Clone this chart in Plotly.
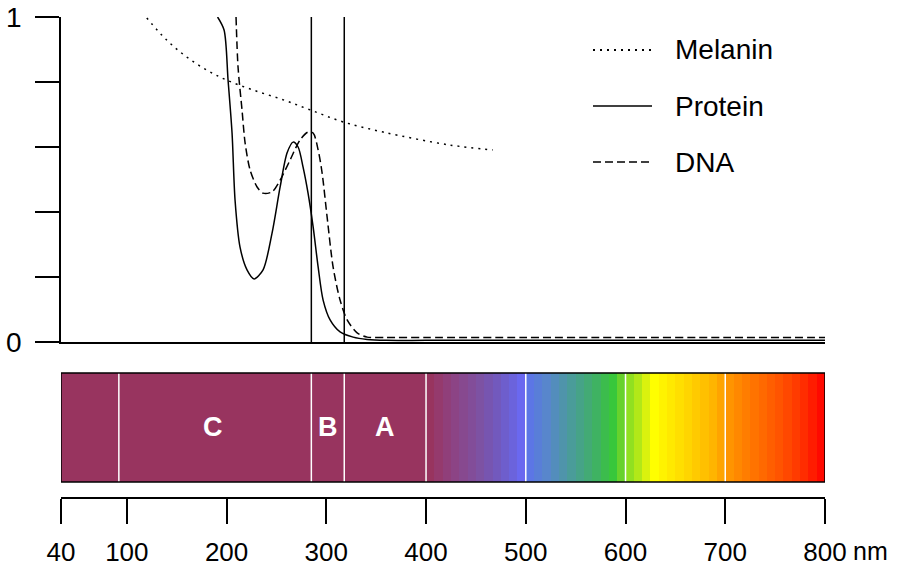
import numpy as np
import plotly.graph_objects as go

# ---------------- data ----------------
melanin_nm = [120, 140, 160, 180, 200, 227, 257, 284, 317, 357, 424, 467]
melanin_abs = [0.997, 0.929, 0.877, 0.837, 0.806, 0.775, 0.745, 0.714, 0.677, 0.646, 0.606, 0.591]

protein_nm = [191, 197.5, 201.5, 205.5, 208.5, 213.5, 220.5, 227.6, 236.6, 245.6, 253.7, 260.7,
              266.7, 271.7, 276.7, 281.7, 286.8, 291.8, 296.8, 303.8, 313.8, 326.9, 340.9, 360,
              400, 500, 600, 700, 800]
protein_abs = [1.0, 0.96, 0.806, 0.643, 0.437, 0.292, 0.222, 0.194, 0.222, 0.335, 0.477, 0.582,
               0.615, 0.600, 0.538, 0.458, 0.354, 0.231, 0.129, 0.068, 0.031, 0.015, 0.008, 0.005,
               0.005, 0.005, 0.005, 0.005, 0.005]

dna_nm = [209.5, 211.5, 215.5, 218.6, 223.6, 230.6, 236.6, 245.6, 253.7, 263.7, 273.7, 281.7,
          286.8, 291.8, 295.8, 300.8, 306.8, 313.8, 320.9, 330.9, 340.9, 360, 400, 500, 600,
          700, 800]
dna_abs = [1.0, 0.846, 0.714, 0.612, 0.529, 0.477, 0.458, 0.462, 0.498, 0.560, 0.622, 0.646,
           0.643, 0.591, 0.520, 0.385, 0.231, 0.129, 0.068, 0.028, 0.015, 0.014, 0.014, 0.014,
           0.014, 0.014, 0.014]

series_names = ["Melanin", "Protein", "DNA"]

uv_limits = [285, 318]                                 # vertical lines in the top panel
band_lines = [92, 285, 318, 400, 500, 600, 700]        # white lines in the spectrum bar
band_labels = ["C", "B", "A"]
band_label_pos = [186, 301.5, 359]

tick_vals = [34, 100, 200, 300, 400, 500, 600, 700, 800]
tick_text = ["40", "100", "200", "300", "400", "500", "600", "700", "800"]
x_range = [34, 800]

# spectrum colour stops (wavelength, colour)
spectrum_stops = [
    (34, "#98345F"), (404, "#98345F"), (412, "#953A6C"), (425, "#8E4280"),
    (440, "#854A92"), (455, "#7C52A4"), (470, "#7258BC"), (485, "#6B62D6"),
    (499, "#6A6AF8"), (505, "#5A78E2"), (520, "#5885CE"), (535, "#5092B0"),
    (550, "#48A090"), (565, "#42AC70"), (578, "#3CBA50"), (588, "#38C83A"),
    (597, "#6ED42A"), (604, "#90E020"), (613, "#B4E818"), (620, "#D6F010"),
    (628, "#FFFF00"), (640, "#FFF000"), (652, "#FFE200"), (664, "#FFD300"),
    (676, "#FFC400"), (688, "#FFB400"), (698, "#FFA000"), (705, "#FF9200"),
    (720, "#FF7E00"), (740, "#FF6600"), (760, "#FF4C00"), (780, "#FF2C00"),
    (800, "#FF0000"),
]

# ---------------- figure ----------------
W, H = 902, 569
ml, mr, mt, mb = 61, 77, 17, 72
plot_h = H - mt - mb
plot_w = W - ml - mr
top_dom = [(497 - 342) / plot_h, 1.0]
bot_dom = [0, (497 - 370.5) / plot_h]
bar_lo, bar_hi = 0.121, 1.0

fig = go.Figure()

line_w = 1.5
fig.add_trace(go.Scatter(x=melanin_nm, y=melanin_abs, mode="lines", line_shape="spline",
                         line=dict(color="black", width=1.5, dash="2px,5px"),
                         name=series_names[0], xaxis="x", yaxis="y"))
fig.add_trace(go.Scatter(x=protein_nm, y=protein_abs, mode="lines", line_shape="spline",
                         line=dict(color="black", width=line_w, smoothing=0.8),
                         name=series_names[1], xaxis="x", yaxis="y"))
fig.add_trace(go.Scatter(x=dna_nm, y=dna_abs, mode="lines", line_shape="spline",
                         line=dict(color="black", width=line_w, dash="8px,4px", smoothing=0.8),
                         name=series_names[2], xaxis="x", yaxis="y"))

# vertical UV limit lines
vx, vy = [], []
for b in uv_limits:
    vx += [b, b, None]
    vy += [0, 1, None]
fig.add_trace(go.Scatter(x=vx, y=vy, mode="lines", line=dict(color="black", width=1.5),
                         xaxis="x", yaxis="y", hoverinfo="skip"))

# spectrum bar as heatmap bricks
edges = [x_range[0]] + list(np.arange(400, 800.01, 100 / 12))
centers = [(a + b) / 2 for a, b in zip(edges[:-1], edges[1:])]
zmin, zmax = x_range
cscale = [[(w - zmin) / (zmax - zmin), c] for w, c in spectrum_stops]
fig.add_trace(go.Heatmap(x=edges, y=[bar_lo, bar_hi], z=[centers], colorscale=cscale,
                         zmin=zmin, zmax=zmax, showscale=False, zsmooth=False,
                         xaxis="x2", yaxis="y2", hoverinfo="skip"))

wx, wy = [], []
for b in band_lines:
    wx += [b, b, None]
    wy += [bar_lo, bar_hi, None]
fig.add_trace(go.Scatter(x=wx, y=wy, mode="lines", line=dict(color="white", width=1.5),
                         xaxis="x2", yaxis="y2", hoverinfo="skip"))

fig.add_shape(type="rect", xref="x2", yref="y2", x0=x_range[0], x1=x_range[1],
              y0=bar_lo, y1=bar_hi, line=dict(color="black", width=1.5))

for lab, pos in zip(band_labels, band_label_pos):
    fig.add_annotation(x=pos, y=(bar_lo + bar_hi) / 2, xref="x2", yref="y2", text=lab,
                       showarrow=False, font=dict(family="Liberation Sans", size=27,
                                                  color="white", weight="bold"))

# manual legend
leg_y = [50, 106, 162]
leg_dash = ["2px,5px", "solid", "8px,4px"]
for name, py, d in zip(series_names, leg_y, leg_dash):
    yp = (H - mb - py) / plot_h
    fig.add_shape(type="line", xref="paper", yref="paper",
                  x0=(593 - ml) / plot_w, x1=(652 - ml) / plot_w, y0=yp, y1=yp,
                  line=dict(color="black", width=1.5 if name != "Melanin" else 2, dash=d))
    fig.add_annotation(xref="paper", yref="paper", x=(673 - ml) / plot_w, y=yp,
                       xanchor="left", yanchor="middle", text=name, showarrow=False,
                       font=dict(family="Liberation Sans", size=28, color="black"))

fig.add_annotation(xref="paper", yref="paper", x=(851 - ml) / plot_w,
                   y=(H - mb - 551) / plot_h, xanchor="left", yanchor="middle",
                   text="nm", showarrow=False,
                   font=dict(family="Liberation Sans", size=25, color="black"))

tickfont = dict(family="Liberation Sans", size=28, color="black")
xtickfont = dict(family="Liberation Sans", size=26, color="black")
fig.update_layout(
    width=W, height=H, margin=dict(l=ml, r=mr, t=mt, b=mb, autoexpand=False),
    paper_bgcolor="white", plot_bgcolor="white", showlegend=False,
    xaxis=dict(domain=[0, 1], range=x_range, anchor="y", showline=True, linecolor="black",
               linewidth=1.5, showticklabels=False, ticks="", showgrid=False, zeroline=False,
               automargin=False),
    yaxis=dict(domain=top_dom, range=[0, 1], anchor="x", showline=True, linecolor="black",
               linewidth=1.5, ticks="outside", ticklen=24, tickwidth=1.5, tickcolor="black",
               tickvals=[0, 0.2, 0.4, 0.6, 0.8, 1.0], ticktext=["0", "", "", "", "", "1"],
               tickfont=tickfont, showgrid=False, zeroline=False, ticklabelstandoff=8,
               automargin=False),
    xaxis2=dict(domain=[0, 1], range=x_range, anchor="y2", showline=True, linecolor="black",
                linewidth=1.5, ticks="outside", ticklen=25, tickwidth=1.5, tickcolor="black",
                tickvals=tick_vals, ticktext=tick_text, tickfont=xtickfont, showgrid=False,
                zeroline=False, ticklabelstandoff=6, automargin=False),
    yaxis2=dict(domain=bot_dom, range=[0, 1.02], anchor="x2", visible=False,
                showgrid=False, zeroline=False, automargin=False),
)

fig.write_html("out.html")
